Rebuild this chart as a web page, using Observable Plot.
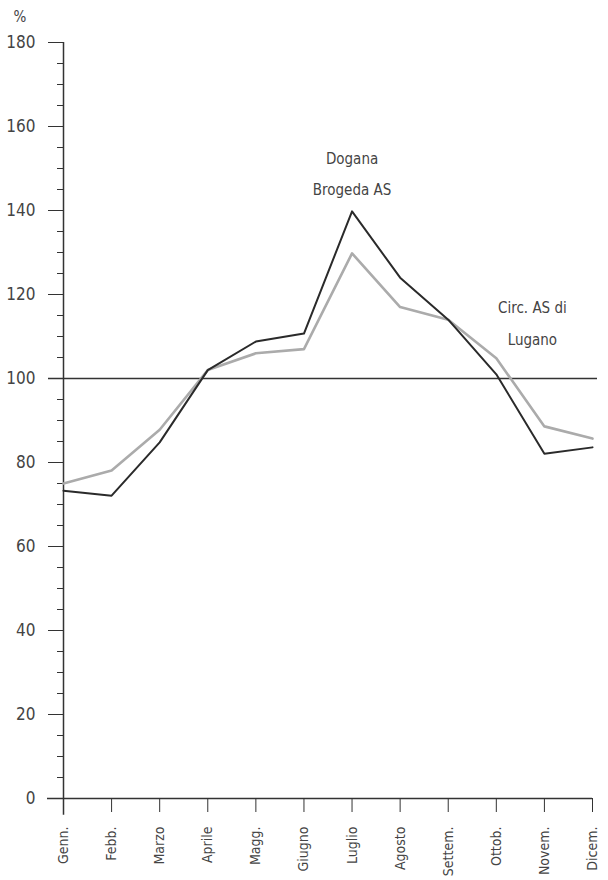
<!DOCTYPE html>
<html>
<head>
<meta charset="utf-8">
<script src="https://cdn.jsdelivr.net/npm/d3@7"></script>
<script src="https://cdn.jsdelivr.net/npm/@observablehq/plot@0.6"></script>
<style>
  body { margin: 0; background: #fff; }
  svg { font-family: "Liberation Sans Narrow", "DejaVu Sans Condensed", "Roboto", sans-serif; font-stretch: condensed; }
</style>
</head>
<body>
<div id="chart"></div>
<script>
const months = ["Genn.", "Febb.", "Marzo", "Aprile", "Magg.", "Giugno", "Luglio", "Agosto", "Settem.", "Ottob.", "Novem.", "Dicem."];
const dogana = [73.3, 72.1, 84.8, 102, 108.8, 110.7, 139.8, 124, 114, 101, 82.1, 83.6];
const lugano = [75, 78.1, 87.8, 102, 106, 107, 129.8, 117, 114, 104.8, 88.6, 85.7];
const yMajor = [0, 20, 40, 60, 80, 100, 120, 140, 160, 180];
const yMinor = d3.range(0, 181, 5);
const reference = [100];
const annotations = [
  {x: 6, y: 149.8, text: "Dogana\nBrogeda AS"},
  {x: 9.75, y: 114.2, text: "Circ. AS di\nLugano"}
];

const doganaData = months.map((m, i) => ({i, v: dogana[i]}));
const luganoData = months.map((m, i) => ({i, v: lugano[i]}));

const chart = Plot.plot({
  width: 608,
  height: 880,
  marginLeft: 63,
  marginRight: 16,
  marginTop: 42,
  marginBottom: 82,
  x: {domain: [0, 11]},
  y: {domain: [0, 180]},
  marks: [
    Plot.ruleY(reference, {stroke: "#333", strokeWidth: 1.3, insetLeft: -15, insetRight: -5}),
    Plot.ruleY([0], {stroke: "#333", strokeWidth: 1.5, insetLeft: -16}),
    Plot.ruleX([0], {y1: -4, y2: 180, stroke: "#333", strokeWidth: 1.5}),
    Plot.axisY(yMinor, {tickSize: 6, tickFormat: null, text: null, stroke: "#333", label: null}),
    Plot.axisY(yMajor, {tickSize: 15, tickPadding: 13, fontSize: 17, fill: "#444", stroke: "#333", label: null}),
    Plot.axisX(d3.range(12), {tickSize: 14, tickPadding: 14, tickRotate: -90, tickFormat: i => months[i], fontSize: 14, fill: "#444", stroke: "#333", label: null}),
    Plot.line(luganoData, {x: "i", y: "v", stroke: "#ababab", strokeWidth: 2.6}),
    Plot.line(doganaData, {x: "i", y: "v", stroke: "#2a2a2a", strokeWidth: 2}),
    Plot.text(annotations, {x: "x", y: "y", text: "text", fontSize: 15, lineHeight: 2.1, fill: "#444", letterSpacing: 1}),
    Plot.text(["%"], {frameAnchor: "top-left", dx: -50, dy: -31, fontSize: 15, fill: "#444"})
  ]
});
document.getElementById("chart").appendChild(chart);
</script>
</body>
</html>
